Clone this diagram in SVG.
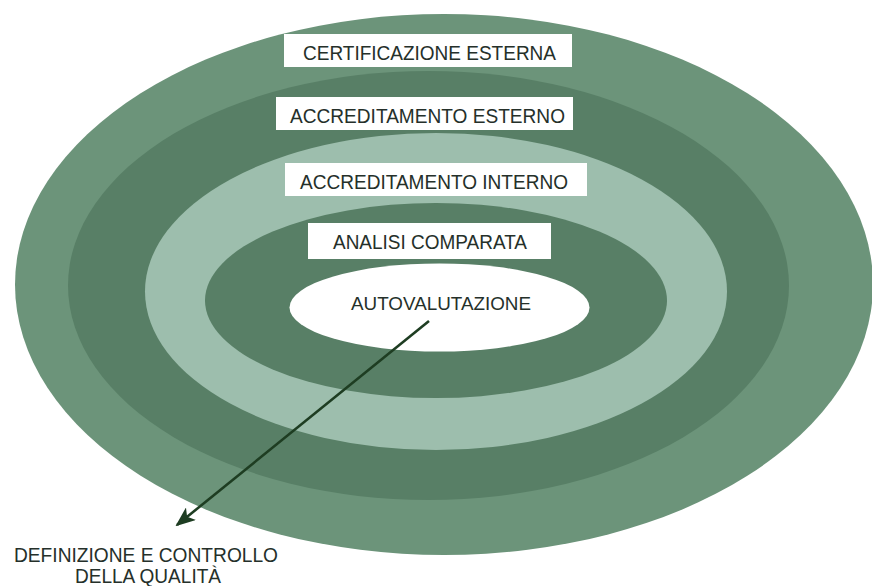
<svg xmlns="http://www.w3.org/2000/svg" width="872" height="586" viewBox="0 0 872 586">
<defs>
<style>
.lbl{fill:#ffffff}
.t{font-family:"Liberation Sans",Arial,sans-serif;font-size:19.5px;fill:#25302a;text-anchor:middle}
.s{font-size:18px}
.ring-out{fill:#6c947a}
.ring-dark{fill:#587f66}
.ring-light{fill:#9dbead}
</style>
<marker id="ah" viewBox="0 0 20 16" refX="18" refY="8" markerWidth="20" markerHeight="16" markerUnits="userSpaceOnUse" orient="auto">
<path d="M0,0 L20,8 L0,16 L5,8 Z" fill="#1e3d22"/>
</marker>
</defs>
<rect x="0" y="0" width="872" height="586" fill="#ffffff"/>
<g id="certificazione-esterna">
<ellipse class="ring-out" cx="444" cy="284.5" rx="429" ry="270.5"/>
<rect class="lbl" x="284" y="34" width="288" height="33"/>
<text class="t" x="429.5" y="60" textLength="253" lengthAdjust="spacingAndGlyphs">CERTIFICAZIONE ESTERNA</text>
</g>
<g id="accreditamento-esterno">
<ellipse class="ring-dark" cx="428.5" cy="285.5" rx="360.5" ry="214.5"/>
<rect class="lbl" x="276" y="97" width="297" height="33"/>
<text class="t" x="427.5" y="123" textLength="275" lengthAdjust="spacingAndGlyphs">ACCREDITAMENTO ESTERNO</text>
</g>
<g id="accreditamento-interno">
<ellipse class="ring-light" cx="436" cy="291.5" rx="291" ry="158.5"/>
<rect class="lbl" x="285" y="163" width="302" height="33"/>
<text class="t" x="434" y="189" textLength="268" lengthAdjust="spacingAndGlyphs">ACCREDITAMENTO INTERNO</text>
</g>
<g id="analisi-comparata">
<ellipse class="ring-dark" cx="436" cy="300.5" rx="231" ry="97.5"/>
<rect class="lbl" x="308" y="223" width="243" height="36"/>
<text class="t" x="430" y="249" textLength="194" lengthAdjust="spacingAndGlyphs">ANALISI COMPARATA</text>
</g>
<g id="autovalutazione">
<ellipse fill="#ffffff" cx="439.5" cy="307.5" rx="150" ry="44"/>
<text class="t s" x="441" y="310" textLength="180" lengthAdjust="spacingAndGlyphs">AUTOVALUTAZIONE</text>
</g>
<g id="connectors">
<line x1="429" y1="321" x2="177" y2="525" stroke="#1e3d22" stroke-width="2.6" marker-end="url(#ah)"/>
</g>
<g id="definizione">
<text class="t" x="146" y="562" textLength="264" lengthAdjust="spacingAndGlyphs">DEFINIZIONE E CONTROLLO</text>
<text class="t" x="148" y="583" textLength="146" lengthAdjust="spacingAndGlyphs">DELLA QUALITÀ</text>
</g>
</svg>
